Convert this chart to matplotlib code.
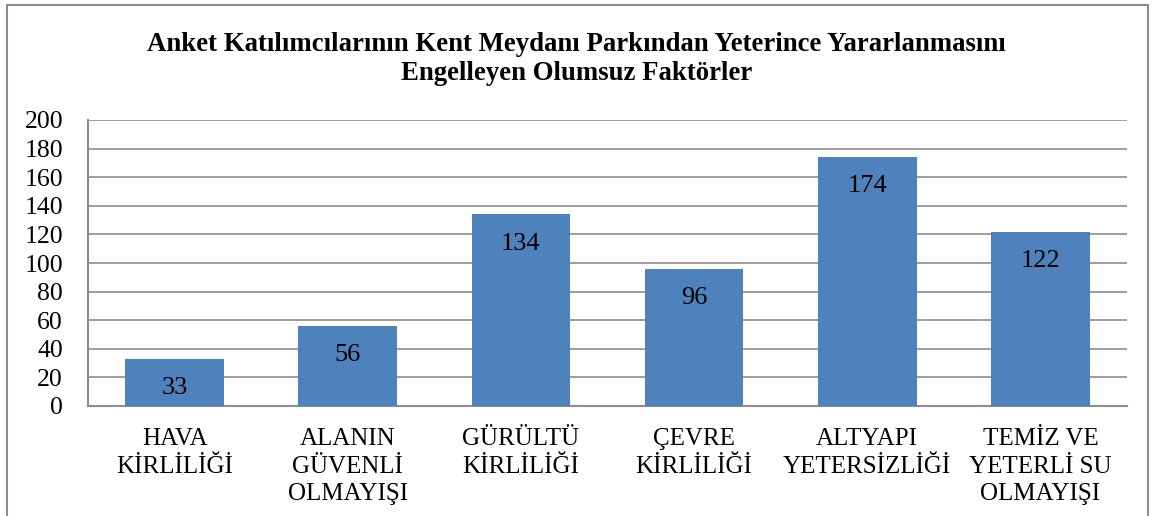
import matplotlib.pyplot as plt
import matplotlib
from matplotlib.patches import Rectangle

matplotlib.rcParams["font.family"] = ["Liberation Serif", "DejaVu Serif"]

categories = [
    "HAVA\nKİRLİLİĞİ",
    "ALANIN\nGÜVENLİ\nOLMAYIŞI",
    "GÜRÜLTÜ\nKİRLİLİĞİ",
    "ÇEVRE\nKİRLİLİĞİ",
    "ALTYAPI\nYETERSİZLİĞİ",
    "TEMİZ VE\nYETERLİ SU\nOLMAYIŞI",
]
values = [33, 56, 134, 96, 174, 122]
yticks = list(range(0, 201, 20))

W, H = 1153, 516
fig = plt.figure(figsize=(W / 100, H / 100), dpi=100)
fig.patch.set_facecolor("white")

# outer chart frame
fig.patches.append(Rectangle((7 / W, -0.05), 1141 / W, 1.05 - 5 / H,
                             transform=fig.transFigure, fill=False,
                             edgecolor="#8c8c8c", linewidth=1.5))

ax = fig.add_axes([88 / W, 1 - 406 / H, 1039 / W, 286 / H])
x = range(len(categories))
bars = ax.bar(x, values, width=0.57, color="#4f81bd", zorder=3)

for b, v in zip(bars, values):
    ax.annotate(str(v), xy=(b.get_x() + b.get_width() / 2, v),
                xytext=(0, -21), textcoords="offset points",
                ha="center", va="center", fontsize=19, color="black", zorder=4)

ax.set_xlim(-0.5, len(categories) - 0.5)
ax.set_ylim(0, 200)
ax.set_yticks(yticks)
ax.set_yticklabels([str(t) for t in yticks], fontsize=18.5)
ax.set_xticks(list(x))
ax.set_xticklabels(categories, fontsize=18, linespacing=1.33)
ax.tick_params(axis="both", length=0)
ax.tick_params(axis="x", pad=16)
ax.tick_params(axis="y", pad=18)
ax.grid(True, axis="y", color="#8c8c8c", linewidth=1.2, zorder=0)

for s in ["top", "right"]:
    ax.spines[s].set_visible(False)
for s in ["left", "bottom"]:
    ax.spines[s].set_color("#8c8c8c")
    ax.spines[s].set_linewidth(1.5)

fig.text(0.5, 1 - 59 / H,
         "Anket Katılımcılarının Kent Meydanı Parkından Yeterince Yararlanmasını\n"
         "Engelleyen Olumsuz Faktörler",
         ha="center", va="center", fontsize=19.3, fontweight="bold", linespacing=1.18)

fig.savefig("out.png", dpi=100)
